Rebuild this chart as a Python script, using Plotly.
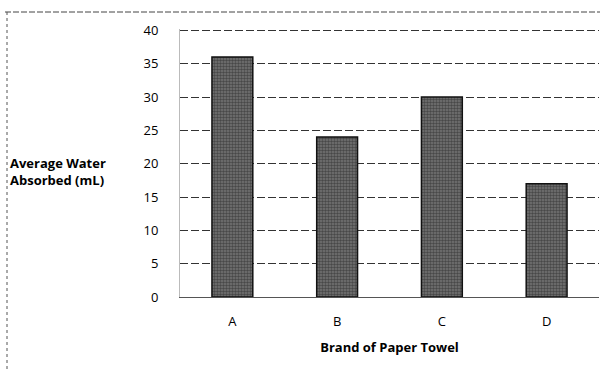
import plotly.graph_objects as go

brands = ["A", "B", "C", "D"]
absorbed = [36, 24, 30, 17]
y_ticks = [0, 5, 10, 15, 20, 25, 30, 35, 40]

W, H = 609, 371
L, R, T, B = 180, 10, 29, 74
plot_w = W - L - R
plot_h = H - T - B

def px_x(x):
    return (x - L) / plot_w

def px_y(y):
    return (H - B - y) / plot_h

fig = go.Figure()
fig.add_trace(go.Bar(
    x=brands, y=absorbed, width=0.39,
    marker=dict(color="#5a5a5a", line=dict(color="#111", width=1.5),
                pattern=dict(shape=".", fgcolor="#1a1a1a", bgcolor="#767676", size=3, solidity=0.55)),
))

fig.update_layout(
    width=W, height=H,
    margin=dict(l=L, r=R, t=T, b=B, autoexpand=False),
    paper_bgcolor="white", plot_bgcolor="white",
    font=dict(family="Open Sans, Liberation Sans, sans-serif", color="#000", size=13),
    showlegend=False,
    xaxis=dict(showgrid=False, showline=True, linecolor="#555", linewidth=1,
               tickfont=dict(size=13), ticks="", automargin=False, ticklabelstandoff=12,
               title=dict(text="<b>Brand of Paper Towel</b>", font=dict(size=13), standoff=14)),
    yaxis=dict(range=[0, 40.2], tickvals=y_ticks, showgrid=True, gridcolor="#333",
               griddash="8px,3px", gridwidth=1, zeroline=False, showline=True,
               linecolor="#bbb", linewidth=1, tickfont=dict(size=13), ticks="",
               ticklabelstandoff=18, automargin=False),
    annotations=[dict(text="<b>Average Water<br>Absorbed (mL)</b>", x=px_x(8), y=px_y(171),
                      xref="paper", yref="paper", showarrow=False, align="left",
                      xanchor="left", yanchor="middle", font=dict(size=13))],
)

fig.add_shape(type="line", xref="paper", yref="paper",
              x0=px_x(5), x1=px_x(600), y0=px_y(12), y1=px_y(12),
              line=dict(color="#444", width=1, dash="6px,2px"))
fig.add_shape(type="line", xref="paper", yref="paper",
              x0=px_x(7), x1=px_x(7), y0=px_y(12), y1=px_y(371),
              line=dict(color="#555", width=1, dash="dot"))

fig.write_html("out.html", config={"displayModeBar": False},
               post_script="document.body.style.margin='0';")
